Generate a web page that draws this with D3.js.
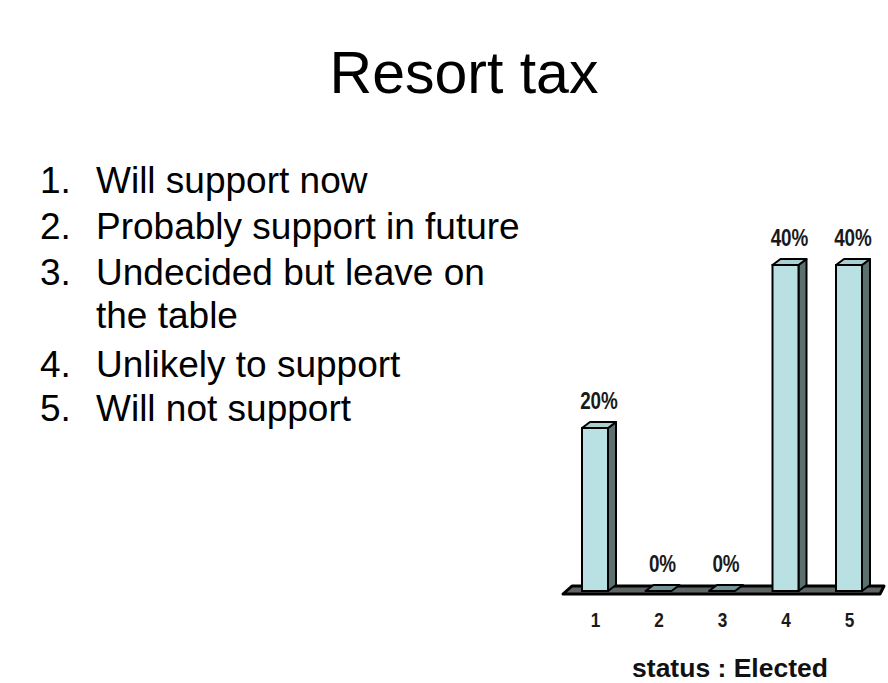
<!DOCTYPE html>
<html>
<head>
<meta charset="utf-8">
<script src="https://cdn.jsdelivr.net/npm/d3@7"></script>
<style>
  html, body { margin: 0; padding: 0; background: #ffffff; }
  svg { display: block; }
</style>
</head>
<body>
<svg id="chart" width="888" height="683"></svg>
<script>
// Survey answers for the resort tax question
const title = "Resort tax";
const answerLabels = [
  ["Will support now"],
  ["Probably support in future"],
  ["Undecided but leave on", "the table"],
  ["Unlikely to support"],
  ["Will not support"]
];
const categories = ["1", "2", "3", "4", "5"];
const percentages = [20, 0, 0, 40, 40];
const axisTitle = "status : Elected";

const svg = d3.select("#chart");
const sans = "'Liberation Sans', Arial, sans-serif";
const squeeze = 0.82; // horizontal condensing for chart labels

// Slide heading
svg.append("text")
  .attr("x", 464).attr("y", 93)
  .attr("text-anchor", "middle")
  .style("font-family", sans)
  .style("font-size", "59px")
  .style("fill", "#000")
  .text(title);

// Numbered list of answer options
const lineBaselines = [[193], [239], [285, 328], [377], [421]];
const list = svg.append("g")
  .style("font-family", sans)
  .style("font-size", "37px")
  .style("fill", "#000");
answerLabels.forEach((lines, i) => {
  list.append("text")
    .attr("x", 40).attr("y", lineBaselines[i][0])
    .text((i + 1) + ".");
  lines.forEach((ln, j) => {
    list.append("text")
      .attr("x", 96).attr("y", lineBaselines[i][j])
      .text(ln);
  });
});

// 3D column chart
const x = d3.scalePoint().domain(categories).range([595, 849]);
const y = d3.scaleLinear().domain([0, 40]).range([591, 265]);
const halfW = 13, dx = 8, dy = 6;

const chart = svg.append("g");

// floor slab
const y0 = y(0);
chart.append("polygon")
  .attr("points", [
    [x(categories[0]) - 32, y0 + 3],
    [x(categories[0]) - 32 + dx + 1, y0 - dy + 1],
    [x(categories[categories.length - 1]) + 35, y0 - dy + 1],
    [x(categories[categories.length - 1]) + 31, y0 + 3]
  ].map(p => p.join(",")).join(" "))
  .attr("fill", "#5f6464")
  .attr("stroke", "#000")
  .attr("stroke-width", 3)
  .attr("stroke-linejoin", "round");

const data = categories.map((c, i) => ({ c, v: percentages[i] }));

const bars = chart.selectAll("g.bar").data(data).enter().append("g").attr("class", "bar");

// side face
bars.filter(d => d.v > 0).append("polygon")
  .attr("points", d => {
    const x1 = x(d.c) + halfW, yt = y(d.v), yb = y(0);
    return [[x1, yt], [x1 + dx, yt - dy], [x1 + dx, yb - dy], [x1, yb]].map(p => p.join(",")).join(" ");
  })
  .attr("fill", "#5c7070")
  .attr("stroke", "#000")
  .attr("stroke-width", 2)
  .attr("stroke-linejoin", "round");

// top face
bars.append("polygon")
  .attr("points", d => {
    const x0 = x(d.c) - halfW, x1 = x(d.c) + halfW, yt = y(d.v);
    return [[x0, yt], [x0 + dx, yt - dy], [x1 + dx, yt - dy], [x1, yt]].map(p => p.join(",")).join(" ");
  })
  .attr("fill", d => d.v > 0 ? "#a9cfd2" : "#6f9396")
  .attr("stroke", "#000")
  .attr("stroke-width", 2)
  .attr("stroke-linejoin", "round");

// front face
bars.filter(d => d.v > 0).append("rect")
  .attr("x", d => x(d.c) - halfW)
  .attr("y", d => y(d.v))
  .attr("width", halfW * 2)
  .attr("height", d => y(0) - y(d.v))
  .attr("fill", "#b9e0e3")
  .attr("stroke", "#000")
  .attr("stroke-width", 2);

// value labels
bars.append("text")
  .attr("transform", d => `translate(${x(d.c) + 4}, ${y(d.v) - 19}) scale(${squeeze}, 1)`)
  .attr("text-anchor", "middle")
  .style("font-family", sans)
  .style("font-weight", "bold")
  .style("font-size", "23px")
  .style("fill", "#1a1a1a")
  .text(d => d.v + "%");

// category axis labels
const xAxis = d3.axisBottom(x).tickSize(0).tickPadding(0);
const axisG = chart.append("g")
  .attr("transform", `translate(0, ${y(0) + 36})`)
  .call(xAxis);
axisG.select(".domain").remove();
axisG.selectAll("text")
  .attr("y", 0)
  .attr("dy", 0)
  .attr("transform", `scale(${squeeze}, 1)`)
  .style("font-family", sans)
  .style("font-weight", "bold")
  .style("font-size", "21px")
  .style("fill", "#1a1a1a");

// axis title
chart.append("text")
  .attr("x", 730).attr("y", 677)
  .attr("text-anchor", "middle")
  .style("font-family", sans)
  .style("font-weight", "bold")
  .style("font-size", "26.5px")
  .style("fill", "#111")
  .text(axisTitle);
</script>
</body>
</html>
